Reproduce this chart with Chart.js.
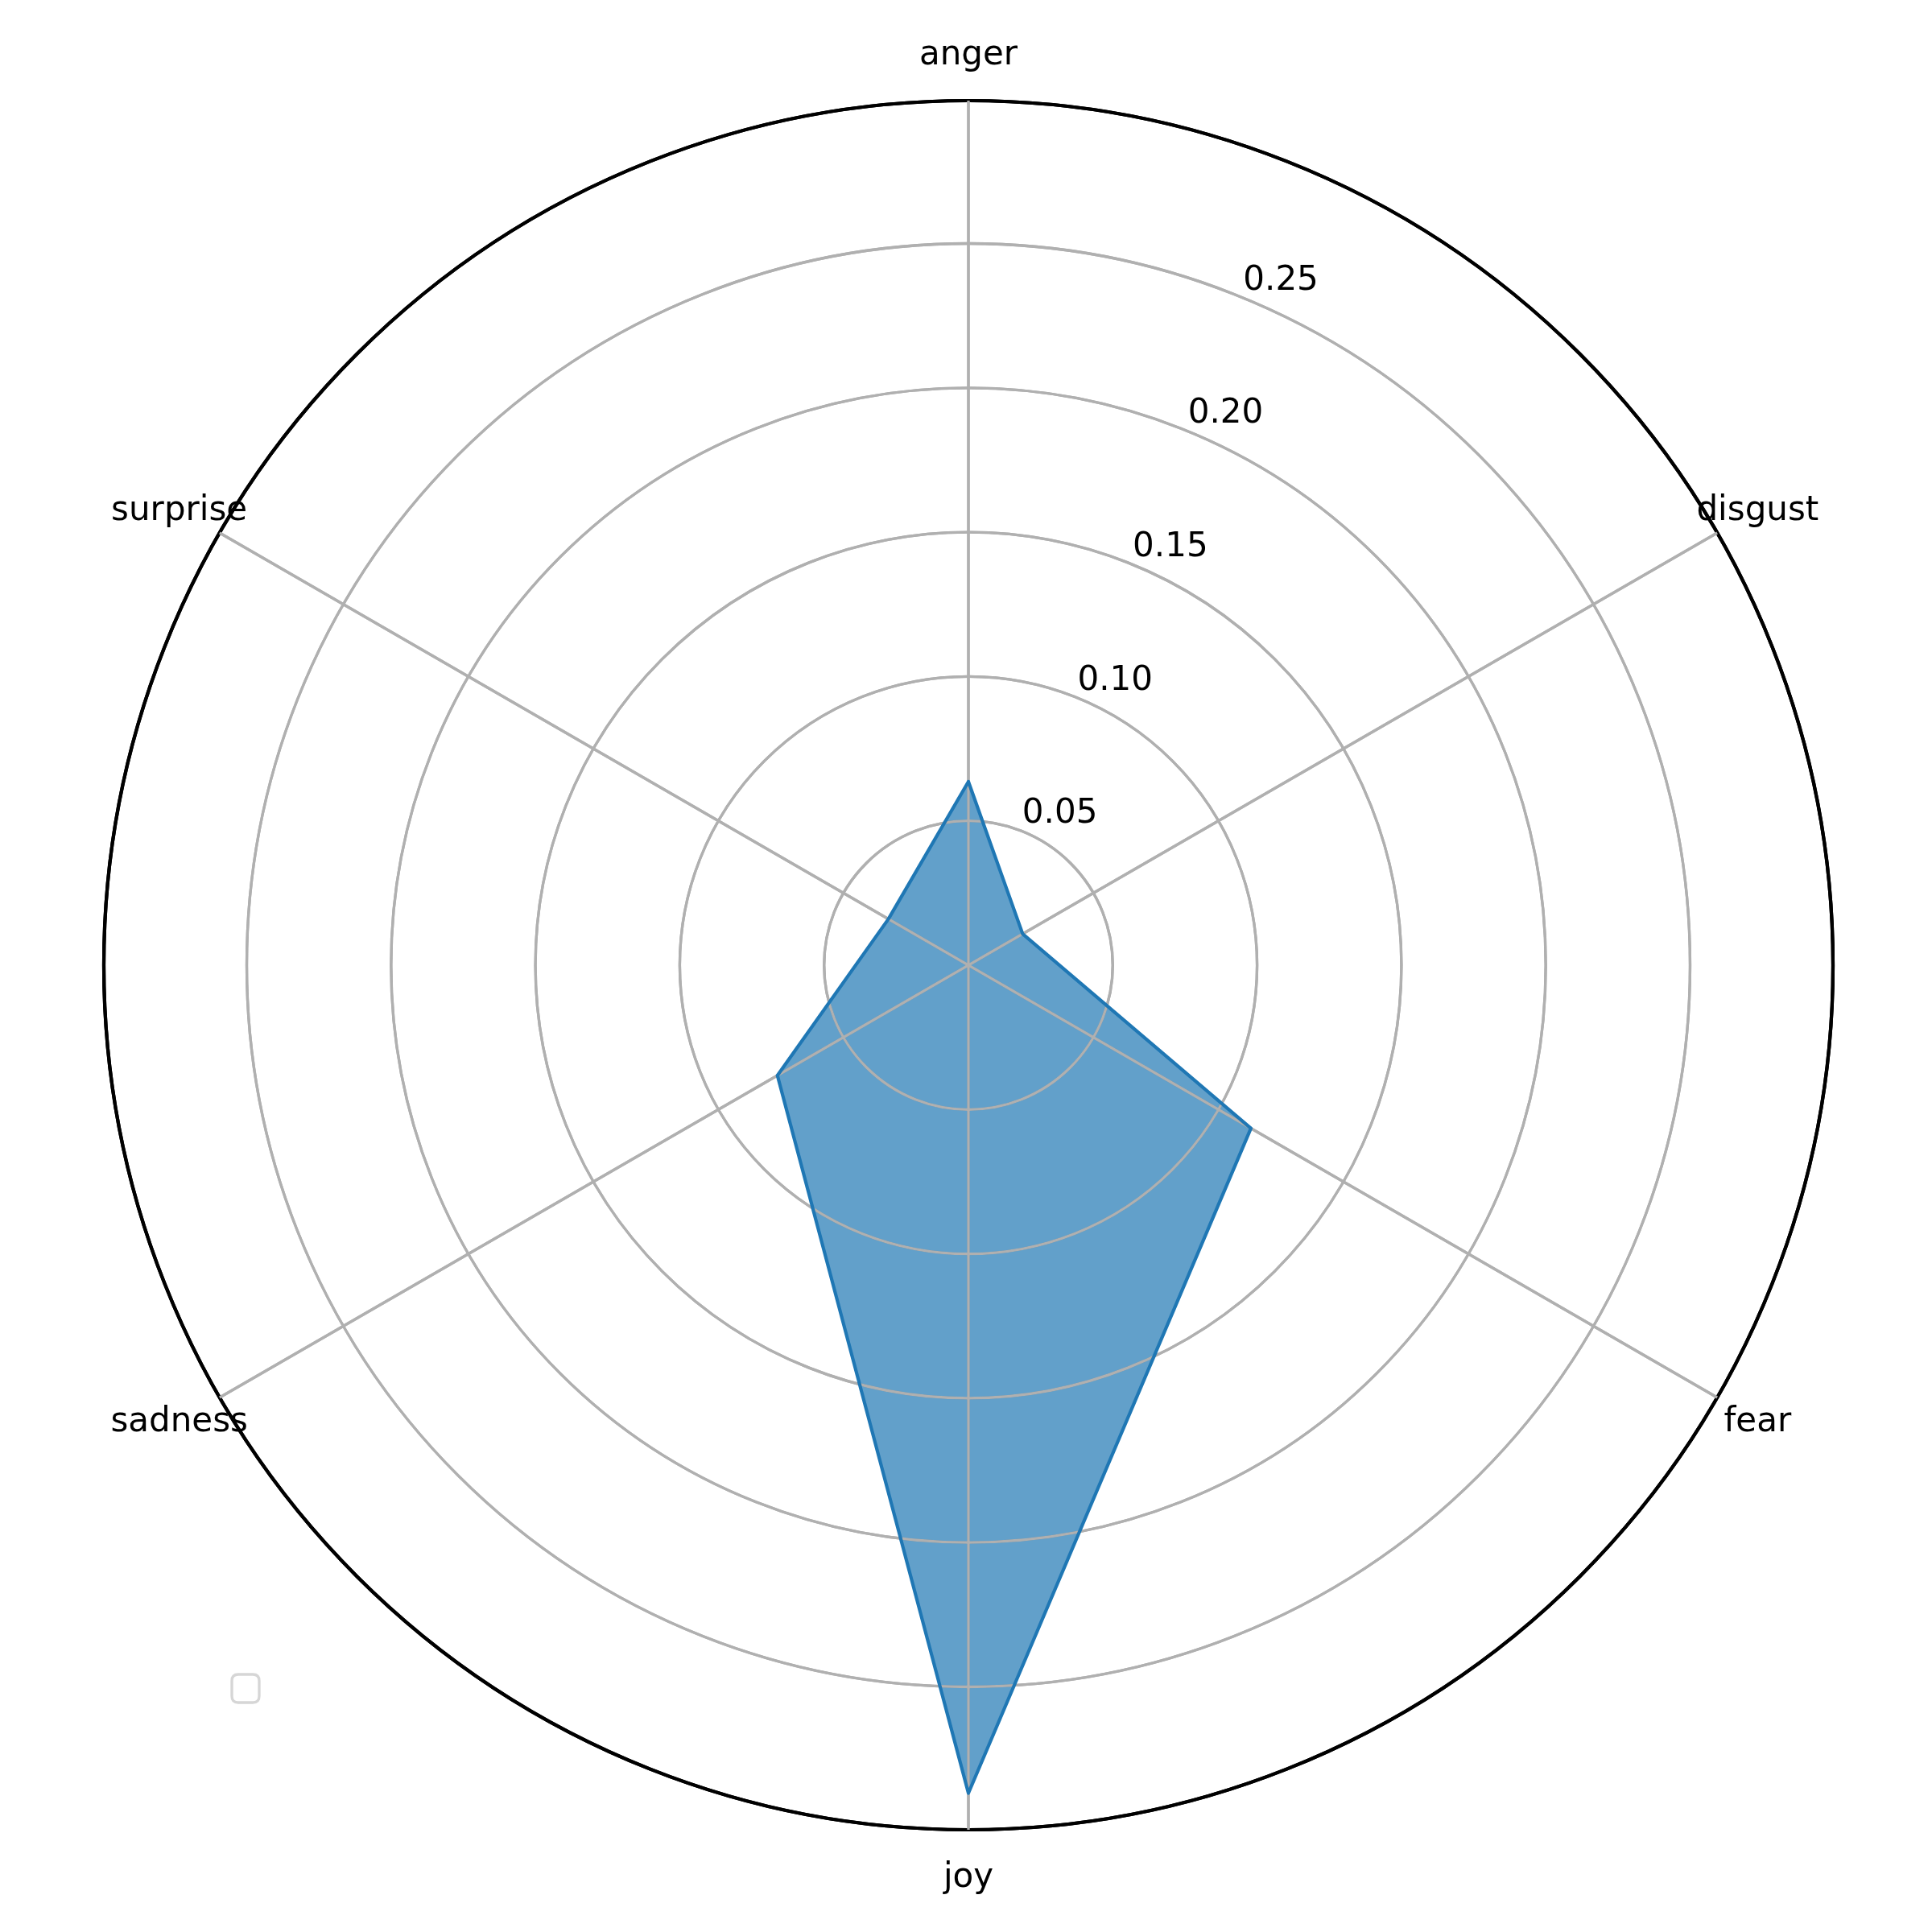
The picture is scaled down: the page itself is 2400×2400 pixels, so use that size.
<!DOCTYPE html>
<html>
<head>
<meta charset="utf-8">
<script src="https://cdn.jsdelivr.net/npm/chart.js@4/dist/chart.umd.min.js"></script>
<style>
  html, body { margin: 0; padding: 0; background: #ffffff; }
  #wrap { width: 2400px; height: 2400px; }
</style>
</head>
<body>
<div id="wrap"><canvas id="c" width="2400" height="2400"></canvas></div>
<script>
// ---- data ----
const categories = ['anger', 'disgust', 'fear', 'joy', 'sadness', 'surprise'];
const values = [0.0636, 0.0217, 0.1130, 0.2868, 0.0764, 0.0320];
const tickValues = [0.05, 0.10, 0.15, 0.20, 0.25];
const tickLabels = ['0.05', '0.10', '0.15', '0.20', '0.25'];
const rMax = 0.2995;

const FONT = '42px "DejaVu Sans"';

const overlay = {
  id: 'overlay',
  afterDatasetDraw(chart, args) {
    // matplotlib draws grid above the filled patch but below the line
    if (args.index === 0) {
      chart.scales.r.drawGrid();
    }
  },
  afterDraw(chart) {
    const s = chart.scales.r;
    const ctx = chart.ctx;
    ctx.save();
    ctx.fillStyle = '#000000';
    ctx.font = FONT;
    ctx.textAlign = 'center';
    ctx.textBaseline = 'middle';
    // category labels
    const outer = s.getDistanceFromCenterForValue(s.max);
    categories.forEach((c, i) => {
      const p = s.getPointPosition(i, outer + 58);
      ctx.fillText(c, p.x, p.y + 2);
    });
    // radial tick labels at 22.5 degrees
    const a = 22.5 * Math.PI / 180;
    tickValues.forEach((v, i) => {
      const d = s.getDistanceFromCenterForValue(v);
      const x = s.xCenter + d * Math.sin(a) + 45;
      const y = s.yCenter - d * Math.cos(a) - 22;
      ctx.fillText(tickLabels[i], x, y);
    });
    // empty legend frame
    ctx.strokeStyle = 'rgba(204,204,204,0.8)';
    ctx.lineWidth = 3.3;
    const lx = 288, ly = 2080, lw = 34, lh = 35, rr = 8;
    ctx.beginPath();
    ctx.moveTo(lx + rr, ly);
    ctx.lineTo(lx + lw - rr, ly);
    ctx.quadraticCurveTo(lx + lw, ly, lx + lw, ly + rr);
    ctx.lineTo(lx + lw, ly + lh - rr);
    ctx.quadraticCurveTo(lx + lw, ly + lh, lx + lw - rr, ly + lh);
    ctx.lineTo(lx + rr, ly + lh);
    ctx.quadraticCurveTo(lx, ly + lh, lx, ly + lh - rr);
    ctx.lineTo(lx, ly + rr);
    ctx.quadraticCurveTo(lx, ly, lx + rr, ly);
    ctx.closePath();
    ctx.stroke();
    ctx.restore();
  }
};

new Chart(document.getElementById('c'), {
  type: 'radar',
  data: {
    labels: categories,
    datasets: [
      {
        data: values,
        backgroundColor: 'rgba(31,119,180,0.7)',
        borderWidth: 0,
        fill: true,
        pointRadius: 0,
        order: 2
      },
      {
        data: values,
        borderColor: '#1f77b4',
        borderWidth: 4.2,
        backgroundColor: 'rgba(0,0,0,0)',
        fill: false,
        pointRadius: 0,
        order: 1
      }
    ]
  },
  options: {
    responsive: false,
    animation: false,
    events: [],
    layout: { padding: { left: 129, right: 123, top: 125, bottom: 126 } },
    plugins: { legend: { display: false }, tooltip: { enabled: false } },
    elements: { line: { tension: 0, borderJoinStyle: 'round' } },
    scales: {
      r: {
        min: 0,
        max: rMax,
        startAngle: 0,
        afterBuildTicks(scale) {
          scale.ticks = [0].concat(tickValues, [rMax]).map(v => ({ value: v }));
        },
        ticks: { display: false },
        pointLabels: { display: false },
        grid: {
          circular: true,
          color: ctx => (ctx.tick && ctx.tick.value === rMax) ? '#000000' : '#b0b0b0',
          lineWidth: ctx => (ctx.tick && ctx.tick.value === rMax) ? 4.2 : 3.3
        },
        angleLines: { color: '#b0b0b0', lineWidth: 3.3 }
      }
    }
  },
  plugins: [overlay]
});
</script>
</body>
</html>
